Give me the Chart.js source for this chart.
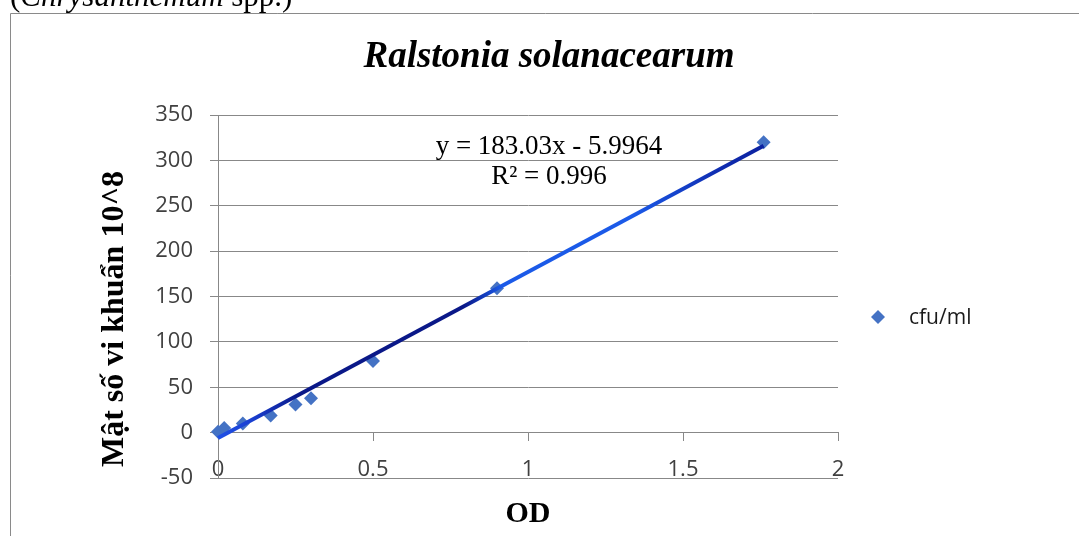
<!DOCTYPE html>
<html>
<head>
<meta charset="utf-8">
<script src="https://cdn.jsdelivr.net/npm/chart.js@4.4.1/dist/chart.umd.min.js"></script>
<style>
  html, body { margin: 0; padding: 0; background: #fff; }
  #wrap { width: 1079px; height: 536px; }
</style>
</head>
<body>
<div id="wrap"><canvas id="odChart" width="1079" height="536"></canvas></div>
<script>
// values
const odValues  = [0, 0.02, 0.08, 0.17, 0.25, 0.30, 0.50, 0.90, 1.76];
const cfuValues = [1, 5, 10, 19, 31, 38, 79, 159, 320];
// trendline end points (as drawn)
const trendOd  = [0, 1.76];
const trendCfu = [-6.0, 316.1];

const xTickValues = [0, 0.5, 1, 1.5, 2];
const yTickValues = [-50, 0, 50, 100, 150, 200, 250, 300, 350];

const captionText  = ['(', 'Chrysanthemum', ' spp.)'];
const chartTitle   = 'Ralstonia solanacearum';
const seriesName   = 'cfu/ml';
const xTitle       = 'OD';
const yTitle       = 'Mật số vi khuẩn 10^8';
const equationText = 'y = 183.03x - 5.9964';
const r2Text       = 'R² = 0.996';

const pointBlue = '#4472c4';
const gridGray  = '#888888';
const tickColor = '#404040';
const serif = '"Liberation Serif", "DejaVu Serif", serif';
const sans  = '"Open Sans", "Noto Sans", sans-serif';

function trendGradient(ctx) {
    const chart = ctx.chart;
    const area = chart.chartArea;
    if (!area) return '#1a4fe0';
    const xs = chart.scales.x;
    const x0 = xs.getPixelForValue(trendOd[0]);
    const x1 = xs.getPixelForValue(trendOd[1]);
    const g = chart.ctx.createLinearGradient(x0, 0, x1, 0);
    g.addColorStop(0.00, '#1f50e6');
    g.addColorStop(0.06, '#1a40d2');
    g.addColorStop(0.15, '#0a1888');
    g.addColorStop(0.45, '#0a1888');
    g.addColorStop(0.52, '#1b5ae8');
    g.addColorStop(0.76, '#1b5ae8');
    g.addColorStop(0.92, '#0f2cb0');
    g.addColorStop(1.00, '#0c22a0');
    return g;
}

const decorations = {
    id: 'decorations',
    beforeDraw(chart) {
        const ctx = chart.ctx;
        ctx.save();
        ctx.fillStyle = '#fff';
        ctx.fillRect(0, 0, chart.width, chart.height);
        // outer frame
        ctx.strokeStyle = '#8a8a8a';
        ctx.lineWidth = 1;
        ctx.beginPath();
        ctx.moveTo(10.5, chart.height + 2);
        ctx.lineTo(10.5, 13.5);
        ctx.lineTo(chart.width + 2, 13.5);
        ctx.stroke();
        // clipped caption above the frame
        ctx.fillStyle = '#000';
        ctx.textBaseline = 'alphabetic';
        ctx.textAlign = 'left';
        let x = 10;
        captionText.forEach((part, i) => {
            ctx.font = (i === 1 ? 'italic ' : '') + '31px ' + serif;
            ctx.fillText(part, x, 6);
            x += ctx.measureText(part).width;
        });
        ctx.restore();
    },
    afterDraw(chart) {
        const ctx = chart.ctx;
        ctx.save();
        ctx.fillStyle = '#000';
        // title
        ctx.textAlign = 'center';
        ctx.textBaseline = 'alphabetic';
        ctx.font = 'italic bold 37px ' + serif;
        ctx.fillText(chartTitle, 549, 67);
        // equation and R2
        ctx.font = '27px ' + serif;
        ctx.fillText(equationText, 549, 154);
        ctx.fillText(r2Text, 549, 184);
        // axis titles
        ctx.font = 'bold 30px ' + serif;
        ctx.fillText(xTitle, 528, 522);
        ctx.save();
        ctx.translate(123, 319);
        ctx.rotate(-Math.PI / 2);
        ctx.font = 'bold 32px ' + serif;
        ctx.fillText(yTitle, 0, 0);
        ctx.restore();
        // legend
        const lx = 878, ly = 317, r = 7;
        ctx.fillStyle = pointBlue;
        ctx.beginPath();
        ctx.moveTo(lx, ly - r);
        ctx.lineTo(lx + r, ly);
        ctx.lineTo(lx, ly + r);
        ctx.lineTo(lx - r, ly);
        ctx.closePath();
        ctx.fill();
        ctx.fillStyle = '#1a1a1a';
        ctx.textAlign = 'left';
        ctx.textBaseline = 'middle';
        ctx.font = '21px ' + sans;
        ctx.fillText(seriesName, 909, ly + 1);
        ctx.restore();
    }
};

const scatterPoints = odValues.map((od, i) => ({ x: od, y: cfuValues[i] }));
const trendPoints = trendOd.map((od, i) => ({ x: od, y: trendCfu[i] }));

new Chart(document.getElementById('odChart'), {
    type: 'scatter',
    data: {
        datasets: [
            {
                label: seriesName,
                data: scatterPoints,
                pointStyle: 'rectRot',
                pointRadius: 7,
                pointBorderWidth: 0,
                backgroundColor: pointBlue,
                borderColor: pointBlue,
                clip: false,
                order: 2
            },
            {
                type: 'line',
                label: 'Linear (cfu/ml)',
                data: trendPoints,
                borderColor: trendGradient,
                borderWidth: 4,
                pointRadius: 0,
                fill: false,
                clip: false,
                order: 1
            }
        ]
    },
    options: {
        responsive: false,
        animation: false,
        devicePixelRatio: 1,
        layout: { padding: { left: 0, top: 115, right: 241, bottom: 58 } },
        plugins: {
            legend: { display: false },
            title: { display: false },
            tooltip: { enabled: false }
        },
        scales: {
            x: {
                type: 'linear',
                position: { y: 0 },
                min: 0,
                max: 2,
                afterBuildTicks: s => { s.ticks = xTickValues.map(v => ({ value: v })); },
                ticks: {
                    color: tickColor,
                    font: { family: sans, size: 22 },
                    padding: 16,
                    maxRotation: 0,
                    callback: v => String(v)
                },
                grid: { drawOnChartArea: false, drawTicks: true, tickLength: 8, color: gridGray },
                border: { display: true, color: gridGray, width: 1 }
            },
            y: {
                type: 'linear',
                min: -50,
                max: 350,
                afterBuildTicks: s => { s.ticks = yTickValues.map(v => ({ value: v })); },
                afterFit: s => { s.width = 218; },
                ticks: {
                    color: tickColor,
                    font: { family: sans, size: 22 },
                    padding: 17,
                    callback: v => String(v)
                },
                grid: { color: gridGray, tickLength: 8, lineWidth: 1 },
                border: { display: true, color: gridGray, width: 1 }
            }
        }
    },
    plugins: [decorations]
});
</script>
</body>
</html>
